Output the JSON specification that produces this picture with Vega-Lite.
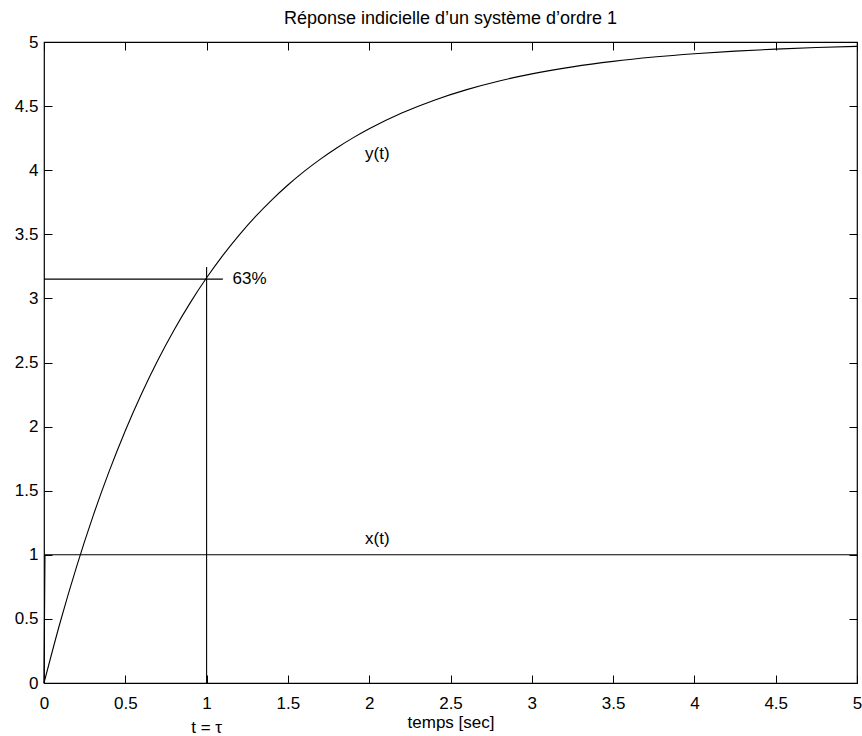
{
  "$schema": "https://vega.github.io/schema/vega-lite/v6.json",
  "autosize": "none",
  "width": 813,
  "height": 641,
  "padding": {"left": 44, "top": 42, "right": 5, "bottom": 53},
  "background": "white",
  "config": {
    "view": {"stroke": "black", "strokeWidth": 1.2},
    "font": "Liberation Sans",
    "axis": {"grid": false, "domain": false, "labelFont": "Liberation Sans", "labelFontSize": 17, "labelColor": "black", "tickColor": "black", "titleFont": "Liberation Sans", "titleFontWeight": "normal", "titleColor": "black"}
  },
  "title": {"text": "Réponse indicielle d’un système d’ordre 1", "font": "Liberation Sans", "fontSize": 18, "fontWeight": "normal", "color": "black", "offset": 5},
  "datasets": {
    "y": [
      {"t": 0, "v": 0}, {"t": 0.1, "v": 0.4758}, {"t": 0.2, "v": 0.9063}, {"t": 0.3, "v": 1.2959},
      {"t": 0.4, "v": 1.6484}, {"t": 0.5, "v": 1.9673}, {"t": 0.6, "v": 2.2559}, {"t": 0.7, "v": 2.5171},
      {"t": 0.8, "v": 2.7534}, {"t": 0.9, "v": 2.9672}, {"t": 1.0, "v": 3.1606}, {"t": 1.1, "v": 3.3356},
      {"t": 1.2, "v": 3.494}, {"t": 1.3, "v": 3.6373}, {"t": 1.4, "v": 3.767}, {"t": 1.5, "v": 3.8843},
      {"t": 1.6, "v": 3.9905}, {"t": 1.7, "v": 4.0866}, {"t": 1.8, "v": 4.1735}, {"t": 1.9, "v": 4.2522},
      {"t": 2.0, "v": 4.3233}, {"t": 2.2, "v": 4.446}, {"t": 2.4, "v": 4.5464}, {"t": 2.6, "v": 4.6286},
      {"t": 2.8, "v": 4.696}, {"t": 3.0, "v": 4.7511}, {"t": 3.25, "v": 4.8061}, {"t": 3.5, "v": 4.849},
      {"t": 3.75, "v": 4.8824}, {"t": 4.0, "v": 4.9084}, {"t": 4.25, "v": 4.9287}, {"t": 4.5, "v": 4.9445},
      {"t": 4.75, "v": 4.9567}, {"t": 5.0, "v": 4.9663}
    ],
    "x": [{"t": 0, "v": 0}, {"t": 0.006, "v": 1}, {"t": 5, "v": 1}],
    "rules": [
      {"x1": 0, "x2": 1.1, "y1": 3.15, "y2": 3.15},
      {"x1": 1, "x2": 1, "y1": 0, "y2": 3.245}
    ],
    "labels": [
      {"t": 1.264, "v": 3.15, "label": "63%"},
      {"t": 2.05, "v": 4.13, "label": "y(t)"},
      {"t": 2.05, "v": 1.12, "label": "x(t)"},
      {"t": 1.0, "v": -0.35, "label": "t = τ"}
    ]
  },
  "layer": [
    {
      "data": {"name": "y"},
      "mark": {"type": "line", "color": "black", "strokeWidth": 1.1, "interpolate": "monotone"},
      "encoding": {
        "x": {"field": "t", "type": "quantitative", "scale": {"domain": [0, 5], "nice": false, "zero": false},
              "axis": {"orient": "bottom", "values": [0, 0.5, 1, 1.5, 2, 2.5, 3, 3.5, 4, 4.5, 5], "format": "", "tickSize": -8, "labelPadding": 20, "title": "temps [sec]", "titleFontSize": 17, "titlePadding": 3, "labelFlush": false}},
        "y": {"field": "v", "type": "quantitative", "scale": {"domain": [0, 5], "nice": false, "zero": false},
              "axis": {"orient": "left", "values": [0, 0.5, 1, 1.5, 2, 2.5, 3, 3.5, 4, 4.5, 5], "format": "", "tickSize": -8, "labelPadding": 14, "title": null, "labelFlush": false}}
      }
    },
    {
      "data": {"name": "x"},
      "mark": {"type": "line", "color": "black", "strokeWidth": 1.1},
      "encoding": {
        "x": {"field": "t", "type": "quantitative", "axis": {"orient": "top", "values": [0, 0.5, 1, 1.5, 2, 2.5, 3, 3.5, 4, 4.5, 5], "tickSize": -8, "labels": false, "title": null}},
        "y": {"field": "v", "type": "quantitative", "axis": {"orient": "right", "values": [0, 0.5, 1, 1.5, 2, 2.5, 3, 3.5, 4, 4.5, 5], "tickSize": -8, "labels": false, "title": null}}
      }
    },
    {
      "data": {"name": "rules"},
      "mark": {"type": "rule", "color": "black", "strokeWidth": 1.1},
      "encoding": {
        "x": {"field": "x1", "type": "quantitative", "axis": null},
        "x2": {"field": "x2"},
        "y": {"field": "y1", "type": "quantitative", "axis": null},
        "y2": {"field": "y2"}
      }
    },
    {
      "data": {"name": "labels"},
      "mark": {"type": "text", "color": "black", "fontSize": 17, "font": "Liberation Sans", "baseline": "middle", "align": "center"},
      "encoding": {
        "x": {"field": "t", "type": "quantitative", "axis": null},
        "y": {"field": "v", "type": "quantitative", "axis": null},
        "text": {"field": "label"}
      }
    }
  ]
}
